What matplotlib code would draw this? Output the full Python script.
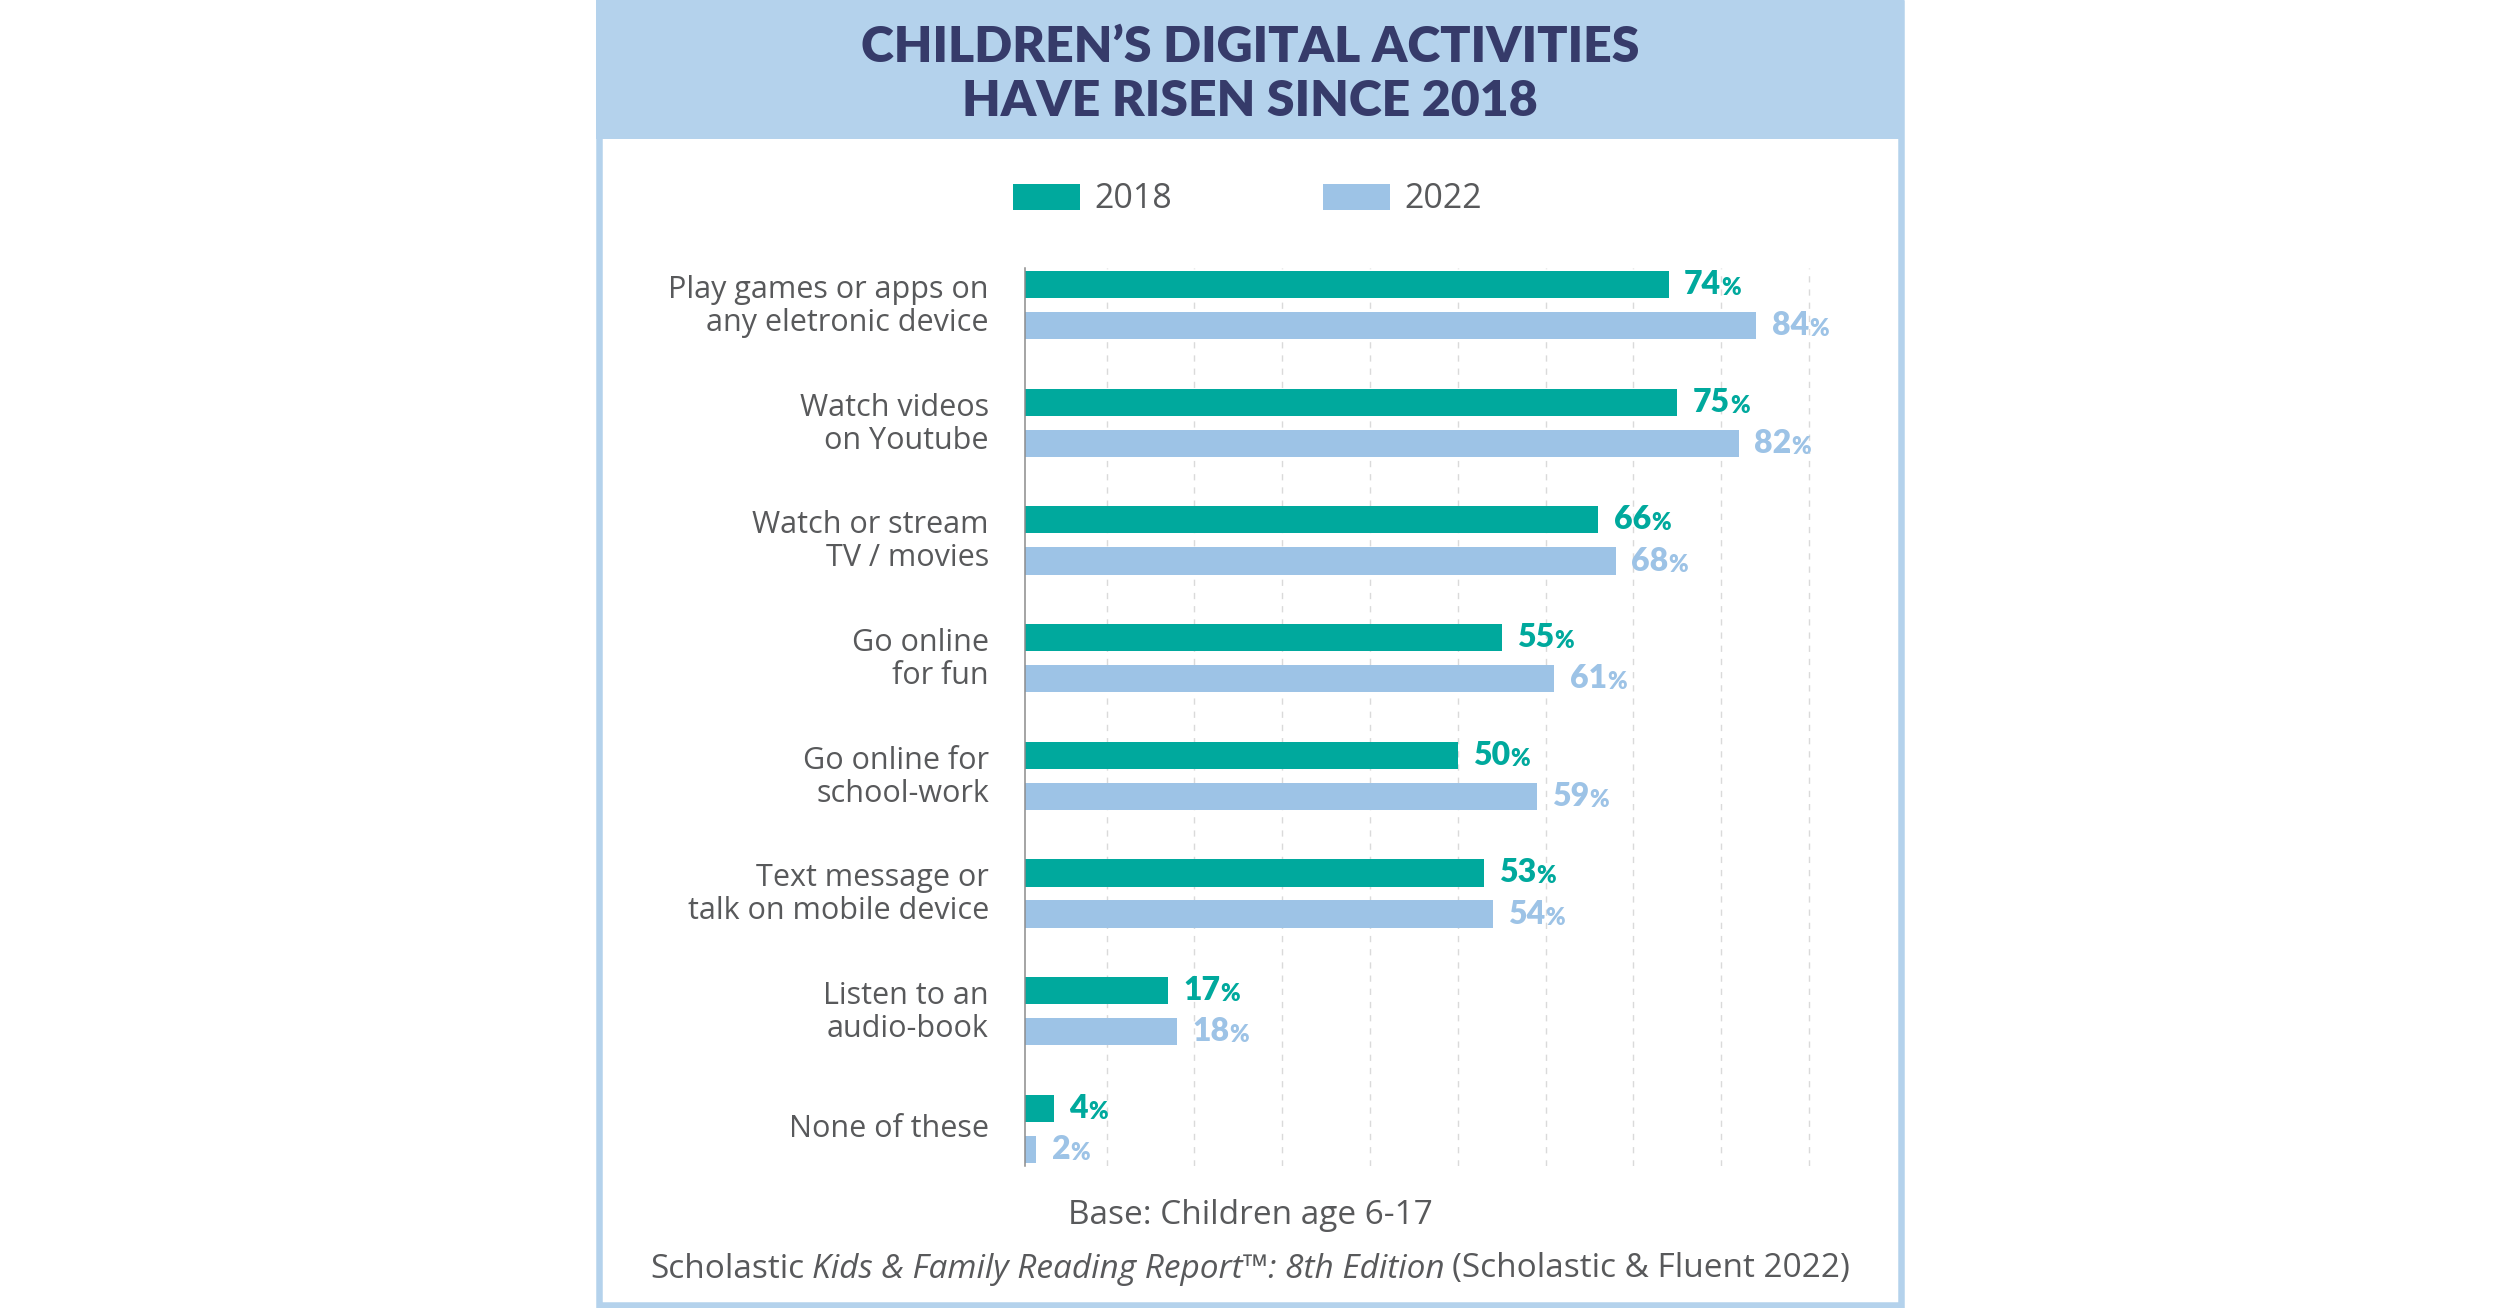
import matplotlib
matplotlib.use("Agg")
import matplotlib.pyplot as plt
from matplotlib.patches import Rectangle, Patch
import numpy as np

# ---------------- data ----------------
categories = [
    "Play games or apps on\nany eletronic device",
    "Watch videos\non Youtube",
    "Watch or stream\nTV / movies",
    "Go online\nfor fun",
    "Go online for\nschool-work",
    "Text message or\ntalk on mobile device",
    "Listen to an\naudio-book",
    "None of these",
]
values_2018 = [74, 75, 66, 55, 50, 53, 17, 4]
values_2022 = [84, 82, 68, 61, 59, 54, 18, 2]
series_names = ["2018", "2022"]
title_lines = ["CHILDREN\u2019S DIGITAL ACTIVITIES", "HAVE RISEN SINCE 2018"]
base_text = "Base: Children age 6-17"
source_parts = [("Scholastic", "normal"),
                ("Kids & Family Reading Report\u2122: 8th Edition", "italic"),
                ("(Scholastic & Fluent 2022)", "normal")]

# ---------------- style ----------------
TEAL = "#00A99D"
LBLUE = "#9DC3E6"
HEADER = "#B4D2EC"
NAVY = "#363B6A"
GRAY = "#58595B"
BODY = ["Open Sans", "DejaVu Sans"]
BOLD = ["Lato", "DejaVu Sans"]
plt.rcParams["font.family"] = BODY

W, H = 2500, 1308
fig = plt.figure(figsize=(W / 100, H / 100), dpi=100)
fig.patch.set_facecolor("white")

# background / frame in pixel coords
bg = fig.add_axes([0, 0, 1, 1], zorder=0)
bg.set_xlim(0, W)
bg.set_ylim(H, 0)
bg.axis("off")
bg.add_patch(Rectangle((596, 0), 1308, 139, facecolor=HEADER, edgecolor="none"))
bg.add_patch(Rectangle((599, 3), 1302, 1302, facecolor="none", edgecolor=HEADER,
                       linewidth=6.5 * 72 / 100))

# title
for line, yc in zip(title_lines, [47, 102]):
    fig.text(0.5, 1 - yc / H, line, ha="center", va="center", color=NAVY,
             fontsize=36, fontweight="heavy", family=BOLD)

# chart axes
x_left, x_right = 0.7, 100
ax = fig.add_axes([1025 / W, 1 - 1166 / H, 871.9 / W, 898 / H], zorder=1)
ax.set_facecolor("none")
n = len(categories)
pos = np.arange(n)
d = 0.175
bh = 0.232
ax.barh(pos - d, values_2018, height=bh, color=TEAL, zorder=2)
ax.barh(pos + d, values_2022, height=bh, color=LBLUE, zorder=2)
ax.set_xlim(x_left, x_right)
ax.set_ylim(n - 1 + 0.316, -0.315)

ax.set_xticks(np.arange(10, 100, 10))
ax.set_xticklabels([])
ax.tick_params(axis="x", length=0)
ax.set_yticks([])
ax.grid(axis="x", color="#dadada", linewidth=1.0, linestyle=(0, (4.5, 5)), zorder=0)
for s in ["top", "right", "bottom"]:
    ax.spines[s].set_visible(False)
ax.spines["left"].set_color("#8c8c8c")
ax.spines["left"].set_linewidth(1.1)

# category labels
for i, cat in enumerate(categories):
    ax.annotate(cat, xy=(0, pos[i]), xycoords=ax.get_yaxis_transform(),
                xytext=(-26, 2.5), textcoords="offset points", ha="right",
                va="center_baseline", multialignment="right", fontsize=22,
                color=GRAY, linespacing=1.12, annotation_clip=False)

# value labels
for vals, offs, col in [(values_2018, -d, TEAL), (values_2022, d, LBLUE)]:
    for i, v in enumerate(vals):
        t = ax.annotate(str(v), xy=(v, i + offs), xytext=(11, 0),
                        textcoords="offset points", va="center", ha="left",
                        fontsize=23, fontweight="heavy", color=col, zorder=3,
                        family=BOLD)
        ax.annotate("%", xy=(1.0, 0.0), xycoords=t, va="bottom", ha="left",
                    fontsize=17, fontweight="heavy", color=col, zorder=3,
                    family=BOLD)

# legend
handles = [Patch(facecolor=TEAL, edgecolor="none"), Patch(facecolor=LBLUE, edgecolor="none")]
fig.legend(handles, series_names, loc="center", bbox_to_anchor=(1247.5 / W, 1 - 199.5 / H),
           ncol=2, frameon=False, prop={"family": BODY, "size": 24.5},
           labelcolor=GRAY, handlelength=1.95, handleheight=0.8, handletextpad=0.42,
           columnspacing=4.45)

# footer
fig.text(0.5, 1 - 1216 / H, base_text, ha="center", va="center", fontsize=24,
         color=GRAY)

y_src = 1 - 1269 / H
texts = [fig.text(0.5, y_src, s, ha="left", va="center", fontsize=24, color=GRAY,
                  fontstyle=style) for s, style in source_parts]
fig.canvas.draw()
r = fig.canvas.get_renderer()
space = 7.5
widths = [t.get_window_extent(r).width for t in texts]
total = sum(widths) + space * (len(texts) - 1)
x = W / 2 - total / 2
for t, wdt in zip(texts, widths):
    t.set_x(x / W)
    x += wdt + space

fig.savefig("out.png", dpi=100, facecolor="white")
